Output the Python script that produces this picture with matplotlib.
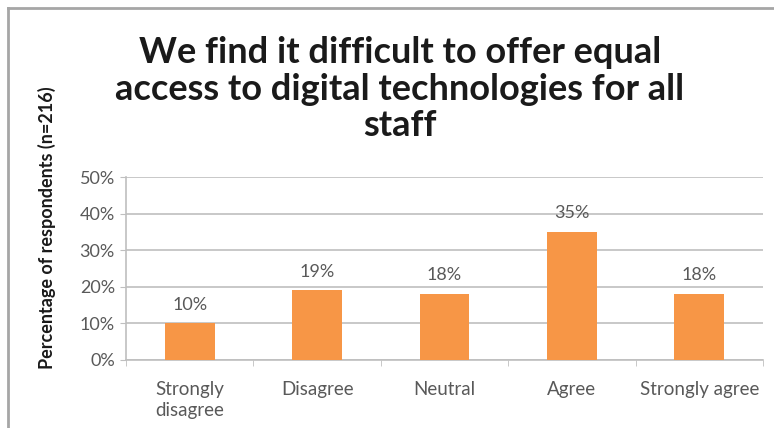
import matplotlib
matplotlib.use("Agg")
import matplotlib.pyplot as plt
from matplotlib.lines import Line2D
from matplotlib.ticker import FuncFormatter, MultipleLocator

categories = ["Strongly\ndisagree", "Disagree", "Neutral", "Agree", "Strongly agree"]
values = [10, 19, 18, 35, 18]
title = "We find it difficult to offer equal\naccess to digital technologies for all\nstaff"
ylabel = "Percentage of respondents (n=216)"

W, H = 774, 428
fig = plt.figure(figsize=(W / 100, H / 100), dpi=100)
fig.patch.set_facecolor("white")

# plot area in pixel coordinates
left, right, top, bottom = 126, 763, 177, 360
ax = fig.add_axes([left / W, 1 - bottom / H, (right - left) / W, (bottom - top) / H])

grey_text = "#595959"
grid_col = "#BFBFBF"

x = list(range(len(categories)))
ax.bar(x, values, width=0.39, color="#F79646", zorder=3)
ax.set_xlim(-0.5, len(categories) - 0.5)
ax.set_ylim(0, 50)

for xi, v in zip(x, values):
    ax.annotate(f"{v}%", (xi, v), xytext=(0, 13.5), textcoords="offset points",
                ha="center", va="center", fontsize=13, color=grey_text, family="Lato")

ax.yaxis.set_major_locator(MultipleLocator(10))
ax.yaxis.set_major_formatter(FuncFormatter(lambda v, p: f"{int(v)}%"))
ax.grid(axis="y", color=grid_col, linewidth=1.2, zorder=0)
ax.tick_params(axis="y", length=4, color=grid_col, labelsize=13, labelcolor=grey_text, pad=4)

ax.set_xticks(x)
ax.set_xticklabels(categories, fontsize=13.5, color=grey_text, family="Lato", linespacing=1.3)
ax.set_xticks([i + 0.5 for i in range(-1, len(categories))], minor=True)
ax.tick_params(axis="x", which="major", length=0, pad=15)
ax.tick_params(axis="x", which="minor", length=4, color=grid_col)
for lab in ax.get_yticklabels():
    lab.set_family("Lato")

for s in ["top", "right"]:
    ax.spines[s].set_visible(False)
for s in ["left", "bottom"]:
    ax.spines[s].set_color(grid_col)
    ax.spines[s].set_linewidth(1.2)

fig.text(400 / W, 1 - 89 / H, title, ha="center", va="center", fontsize=26,
         fontweight="bold", family="Lato", linespacing=1.12, color="#1a1a1a")
fig.text(47 / W, 1 - 228 / H, ylabel, rotation=90, ha="center", va="center",
         fontsize=13, fontweight="bold", family="Lato", color="#1a1a1a")

# outer chart frame (top and left edges)
fig.add_artist(Line2D([8 / W, 1], [1 - 8 / H, 1 - 8 / H], color="#A6A6A6", linewidth=2))
fig.add_artist(Line2D([8 / W, 8 / W], [0, 1 - 8 / H], color="#A6A6A6", linewidth=2))

fig.savefig("out.png", dpi=100, facecolor="white")
